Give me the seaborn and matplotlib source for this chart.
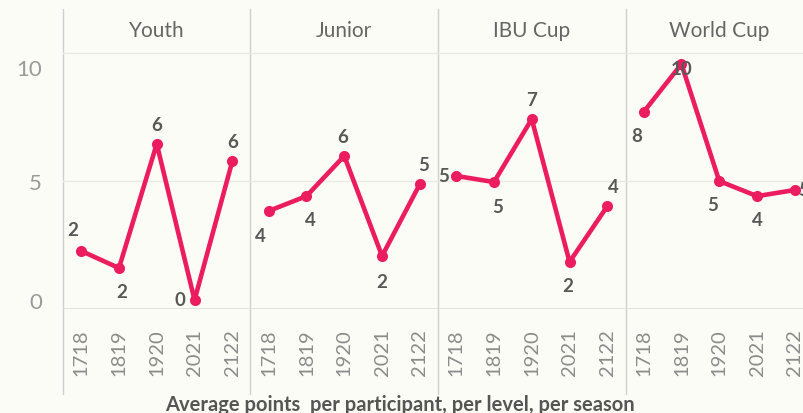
import numpy as np
import pandas as pd
import matplotlib.pyplot as plt
import matplotlib.transforms as mtransforms
import seaborn as sns

# data
seasons = ['1718', '1819', '1920', '2021', '2122']
levels = ['Youth', 'Junior', 'IBU Cup', 'World Cup']
youth = [2.27, 1.60, 6.45, 0.35, 5.78]
junior = [3.83, 4.41, 5.98, 2.07, 4.88]
ibu_cup = [5.20, 4.96, 7.42, 1.84, 4.02]
world_cup = [7.70, 9.57, 5.00, 4.41, 4.65]

df = pd.DataFrame({
    'level': np.repeat(levels, len(seasons)),
    'season': seasons * len(levels),
    'points': youth + junior + ibu_cup + world_cup,
})

# label offsets (pixels) so labels sit like in the original
label_offsets = {
    'Youth': [(-8, 21), (3, -23), (0, 19), (-15, 1), (0, 20)],
    'Junior': [(-8, -25), (4, -23), (-2, 19), (0, -25), (4, 20)],
    'IBU Cup': [(-13, 0), (4, -24), (0, 20), (-2, -24), (6, 20)],
    'World Cup': [(-7, -24), (0, -4), (-7, -23), (0, -23), (9, 0)],
}

pink = '#EC1C60'
bg = '#FCFCF6'
grid_col = '#EBEBE6'
div_col = '#CFCFCF'

sns.set_theme(style='white')
plt.rcParams['font.family'] = ['Lato', 'DejaVu Sans']

W, H = 804, 414
fig = plt.figure(figsize=(W / 100, H / 100), dpi=100, facecolor=bg)

left_px, panel_px = 63, 187.5
top_px, bottom_px = 51, 310

for i, lvl in enumerate(levels):
    ax = fig.add_axes([(left_px + i * panel_px) / W, 1 - bottom_px / H,
                       panel_px / W, (bottom_px - top_px) / H])
    ax.set_facecolor(bg)
    sub = df[df.level == lvl].reset_index(drop=True)
    sub['x'] = np.arange(len(sub))
    sns.lineplot(data=sub, x='x', y='points', ax=ax, color=pink, lw=3.3,
                 marker='o', markersize=8, markeredgewidth=0, zorder=3)

    for j, row in sub.iterrows():
        dx, dy = label_offsets[lvl][j]
        ax.annotate(f"{row.points:.0f}", (row.x, row.points), xytext=(dx, dy),
                    textcoords='offset pixels', ha='center', va='center',
                    fontsize=13.5, fontweight='bold', color='#585858', zorder=4)

    ax.set_xlim(-0.48, 4.48)
    ax.set_ylim(0, 10.12)
    for y in [5, 10]:
        ax.axhline(y, color=grid_col, lw=1, zorder=1)
    ax.axhline(0, color='#DDDDD8', lw=1.2, zorder=1)

    for s in ax.spines.values():
        s.set_visible(False)
    # panel divider running through header and tick labels
    ax.plot([0, 0], [-0.328, 1.158], transform=ax.transAxes, color=div_col,
            lw=1, clip_on=False, zorder=0)

    ax.set_xticks(range(len(seasons)))
    ax.set_xticklabels(seasons, rotation=90, fontsize=14.5, color='#8C8C8C')
    ax.set_xticks(np.arange(0.5, 4, 1), minor=True)
    ax.tick_params(axis='x', which='major', length=0, pad=14)
    ax.tick_params(axis='x', which='minor', length=6, color='#EEEEEA', width=1)
    ax.set_xlabel('')
    ax.set_ylabel('')

    if i == 0:
        ax.set_yticks([0, 5, 10])
        ax.set_yticklabels(['0', '5', '10'], fontsize=16, color='#9A9A9A')
        ax.tick_params(axis='y', length=0, pad=15)
        # nudge labels like the original (0 sits a bit high, 10 a bit low)
        for lab, dy in zip(ax.get_yticklabels(), [9, 0, -14]):
            lab.set_transform(lab.get_transform() +
                              mtransforms.ScaledTranslation(0, dy / 100, fig.dpi_scale_trans))
    else:
        ax.set_yticks([])

    ax.text(0.5, 1 + 20 / (bottom_px - top_px), lvl, transform=ax.transAxes,
            ha='center', va='center', fontsize=15, color='#666666')

fig.text(0.497, 1 - 405 / H, 'Average points  per participant, per level, per season',
         ha='center', va='center', fontsize=14.5, fontweight='bold', color='#555555')

fig.savefig('out.png', dpi=100, facecolor=bg)
